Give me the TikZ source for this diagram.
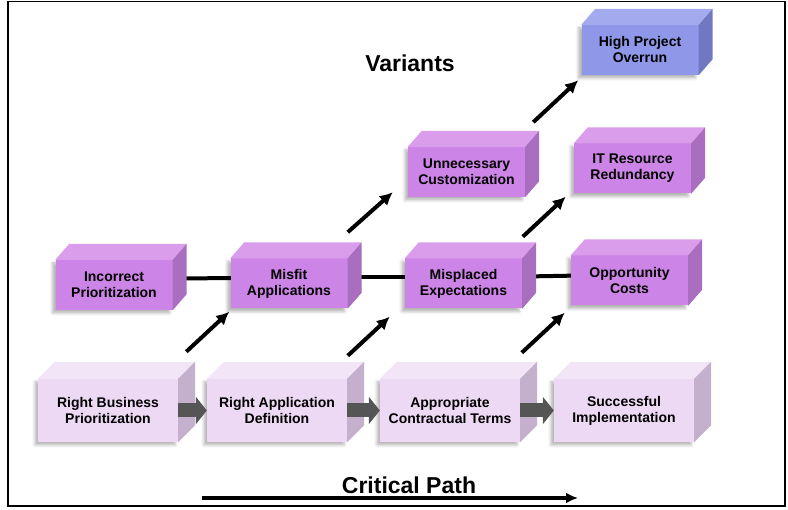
\documentclass[tikz,border=0pt]{standalone}
\usepackage{fontspec}
\setmainfont{Liberation Sans}
\usetikzlibrary{arrows.meta,calc,shadows.blur,backgrounds}
\definecolor{critfront}{HTML}{EDD9F4}
\definecolor{crittop}{HTML}{F3E5F8}
\definecolor{critside}{HTML}{C4AFCC}
\definecolor{varfront}{HTML}{CC84E6}
\definecolor{vartop}{HTML}{D99DEB}
\definecolor{varside}{HTML}{A96EBF}
\definecolor{hifront}{HTML}{8E97E8}
\definecolor{hitop}{HTML}{A3AAEE}
\definecolor{hiside}{HTML}{7078C2}
\definecolor{blockgray}{HTML}{555555}
\tikzset{
  box/.style={align=center, inner sep=0pt, font=\fontsize{14}{16}\selectfont\bfseries,
    blur shadow={shadow xshift=-3pt, shadow yshift=-3pt, shadow blur radius=3pt, shadow opacity=30}},
  crit/.style={box, fill=critfront, minimum width=140pt, minimum height=63pt},
  variant/.style={box, fill=varfront, minimum width=117pt, minimum height=50pt},
  title/.style={font=\fontsize{23}{26}\selectfont\bfseries},
  link/.style={line width=4pt},
  varrow/.style={line width=4pt, -{Latex[length=13pt,width=13pt]}},
  flow/.style={line width=14pt, blockgray, -{Triangle[length=11pt,width=27pt]}},
  cparrow/.style={line width=3.5pt, -{Latex[length=12pt,width=11pt]}}
}
\begin{document}
\begin{tikzpicture}[x=1pt,y=1pt]
\useasboundingbox (0,0) rectangle (788,510);
\draw[line width=1.5pt] (8,4) rectangle (785,508.5);
% critical path
\node[crit] (rbp) at (108,99.5) {Right Business\\Prioritization};
\node[crit] (rad) at (277,99.5) {Right Application\\Definition};
\node[crit] (act) at (450,99.5) {Appropriate\\Contractual Terms};
\node[crit] (si) at (624,99.5) {Successful\\Implementation};
% variants
\node[variant] (inc) at (114,225) {Incorrect\\Prioritization};
\node[variant] (misfit) at (289,226.5) {Misfit\\Applications};
\node[variant] (misplaced) at (463.5,226.5) {Misplaced\\Expectations};
\node[variant] (opp) at (629.5,229.5) {Opportunity\\Costs};
\node[variant] (unnec) at (466.5,338) {Unnecessary\\Customization};
\node[variant] (itres) at (632.5,341.5) {IT Resource\\Redundancy};
\node[variant, fill=hifront] (high) at (640,460) {High Project\\Overrun};
% box faces
\foreach \n in {rbp,rad,act,si}{
  \fill[crittop] (\n.north west) -- ++(17,17) -- ($(\n.north east)+(17,17)$) -- (\n.north east) -- cycle;
  \fill[critside] (\n.north east) -- ++(17,17) -- ($(\n.south east)+(17,17)$) -- (\n.south east) -- cycle;
}
\foreach \n in {inc,misfit,misplaced,opp,unnec,itres}{
  \fill[vartop] (\n.north west) -- ++(14,16) -- ($(\n.north east)+(14,16)$) -- (\n.north east) -- cycle;
  \fill[varside] (\n.north east) -- ++(14,16) -- ($(\n.south east)+(14,16)$) -- (\n.south east) -- cycle;
}
\fill[hitop] (high.north west) -- ++(14,16) -- ($(high.north east)+(14,16)$) -- (high.north east) -- cycle;
\fill[hiside] (high.north east) -- ++(14,16) -- ($(high.south east)+(14,16)$) -- (high.south east) -- cycle;
% links
\begin{pgfonlayer}{background}
\draw[link] ($(inc.center)+(7,6)$) -- ($(misfit.center)+(7,6)$);
\draw[link] ($(misfit.center)+(7,6)$) -- ($(misplaced.center)+(7,6)$);
\draw[link] ($(misplaced.center)+(7,6)$) -- ($(opp.center)+(7,6)$);
\end{pgfonlayer}
\draw[flow] (rbp.east) -- (rad.west);
\draw[flow] (rad.east) -- (act.west);
\draw[flow] (act.east) -- (si.west);
% variant arrows
\draw[varrow] ($(misfit.south west)+(-44,-43)$) -- ($(misfit.south west)+(-1,-3)$);
\draw[varrow] ($(misplaced.south west)+(-57,-47)$) -- ($(misplaced.south west)+(-15,-8)$);
\draw[varrow] ($(opp.south west)+(-49,-47)$) -- ($(opp.south west)+(-6,-7)$);
\draw[varrow] ($(unnec.south west)+(-60,-35)$) -- ($(unnec.south west)+(-15,5)$);
\draw[varrow] ($(itres.south west)+(-51,-43)$) -- ($(itres.south west)+(-8,-3)$);
\draw[varrow] ($(high.south west)+(-48,-47)$) -- ($(high.south west)+(-3,-5)$);
% titles
\node[title] (variants) at (410,447) {Variants};
\node[title] (critical) at (409,25) {Critical Path};
\coordinate (cpstart) at (202,12);
\coordinate (cpend) at (578,12);
\draw[cparrow] (cpstart) -- (cpend);
\end{tikzpicture}
\end{document}
